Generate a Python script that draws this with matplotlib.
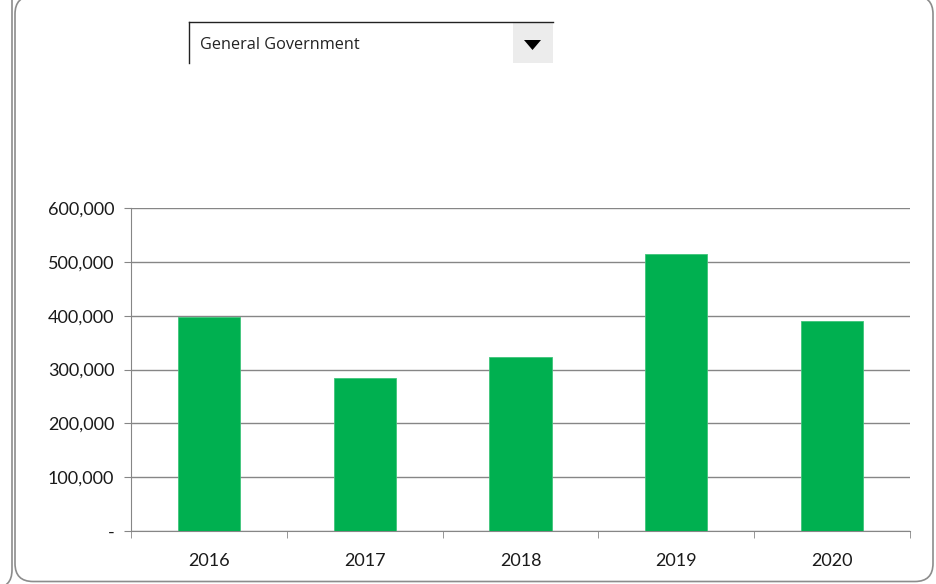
import matplotlib
matplotlib.use('Agg')

import matplotlib.pyplot as plt
from matplotlib.patches import FancyBboxPatch, Rectangle, Polygon
from matplotlib.ticker import FuncFormatter
import numpy as np

# ==========================================
# DATA
# ==========================================
years = ["2016", "2017", "2018", "2019", "2020"]
values = [397500, 284000, 323000, 514500, 390700]
yticks = [0, 100000, 200000, 300000, 400000, 500000, 600000]
selected = "General Government"

bar_color = "#00B050"
line_color = "#868686"
font = ["Lato", "DejaVu Sans"]

W, H = 937, 584
fig = plt.figure(figsize=(W / 100, H / 100), dpi=100)

# ==========================================
# BAKGRUND: RAMAR + DROPDOWN (pixelkoordinater)
# ==========================================
bg = fig.add_axes([0, 0, 1, 1])
bg.set_xlim(0, W)
bg.set_ylim(H, 0)
bg.axis("off")

# ramen till vänster (syns bara kanten)
bg.add_patch(FancyBboxPatch((-200, -20), 212, 608,
                            boxstyle="round,pad=0,rounding_size=18",
                            fc="white", ec="#8c8c8c", lw=1.2))
# huvudramen
bg.add_patch(FancyBboxPatch((15, -4), 918, 585.5,
                            boxstyle="round,pad=0,rounding_size=18",
                            fc="white", ec="#8c8c8c", lw=1.2))

# dropdown
bg.plot([189, 189], [22, 63], color="#222222", lw=1.0)
bg.plot([189, 553], [22, 22], color="#222222", lw=1.0)
bg.add_patch(Rectangle((513, 23), 40, 40, fc="#ececec", ec="none"))
bg.add_patch(Polygon([[524, 40], [541, 40], [532.5, 50]], closed=True,
                     fc="black", ec="none"))
bg.text(200, 45, selected, fontsize=11.7, family=["Open Sans", "DejaVu Sans"],
        color="#222222", ha="left", va="center")

# ==========================================
# STAPELDIAGRAM
# ==========================================
ax = fig.add_axes([131 / W, 1 - 531 / H, (910 - 131) / W, (531 - 208) / H])
ax.patch.set_alpha(0)

x = np.arange(len(years))
ax.bar(x, values, width=0.4, color=bar_color, edgecolor="#3fc47a", lw=0.6,
       zorder=3)

ax.set_xlim(-0.5, len(years) - 0.5)
ax.set_ylim(0, 600000)
ax.set_yticks(yticks)
ax.yaxis.set_major_formatter(FuncFormatter(lambda v, p: "-" if v == 0 else f"{v:,.0f}"))
ax.grid(axis="y", color=line_color, lw=1.0, zorder=0)

ax.set_xticks(x)
ax.set_xticklabels(years)
ax.set_xticks(np.arange(len(years) + 1) - 0.5, minor=True)
ax.tick_params(axis="x", which="major", length=0, pad=16)
ax.tick_params(axis="x", which="minor", length=5, color=line_color, direction="out")
ax.tick_params(axis="y", length=5, color=line_color, pad=7)

for lab in ax.get_xticklabels() + ax.get_yticklabels():
    lab.set_family(font)
    lab.set_fontsize(13)
    lab.set_color("#1a1a1a")

for side in ["top", "right"]:
    ax.spines[side].set_visible(False)
ax.spines["left"].set_color(line_color)
ax.spines["bottom"].set_color(line_color)

plt.savefig("out.png", dpi=100)
plt.close()
